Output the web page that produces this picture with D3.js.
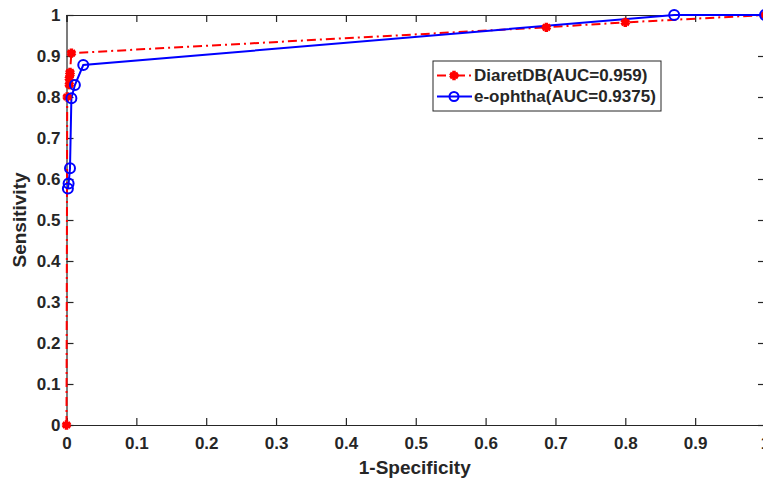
<!DOCTYPE html>
<html>
<head>
<meta charset="utf-8">
<script src="https://cdn.jsdelivr.net/npm/d3@7"></script>
<style>
  body { margin: 0; background: #fff; }
  svg { display: block; font-family: "Liberation Sans", Arial, sans-serif; }
</style>
</head>
<body>
<svg id="roc" width="763" height="485"></svg>
<script>
// ROC points
var diaretFpr  = [0, 0.001, 0.004, 0.004, 0.005, 0.005, 0.007, 0.687, 0.8, 1];
var diaretTpr  = [0, 0.8, 0.83, 0.845, 0.855, 0.86, 0.907, 0.97, 0.982, 1];
var ophthaFpr  = [0.002, 0.003, 0.005, 0.007, 0.012, 0.024, 0.87, 1];
var ophthaTpr  = [0.577, 0.589, 0.626, 0.797, 0.829, 0.878, 1, 1];
var seriesNames = ["DiaretDB(AUC=0.959)", "e-ophtha(AUC=0.9375)"];
var tickVals = [0, 0.1, 0.2, 0.3, 0.4, 0.5, 0.6, 0.7, 0.8, 0.9, 1];

var svg = d3.select("#roc");
var margin = {top: 15, left: 66.5, right: 765, bottom: 425};

var xScale = d3.scaleLinear().domain([0, 1]).range([margin.left, margin.right]);
var yScale = d3.scaleLinear().domain([0, 1]).range([margin.bottom, margin.top]);

function zip(xs, ys) {
  var out = [];
  for (var i = 0; i < xs.length; i++) out.push({x: xs[i], y: ys[i]});
  return out;
}
var diaret = zip(diaretFpr, diaretTpr);
var ophtha = zip(ophthaFpr, ophthaTpr);

var fmt = function(d) { return d3.format("")(d); };

// bottom + left axes with labels, top + right just ticks (box on)
var xAxisCall = d3.axisBottom(xScale).tickValues(tickVals).tickSize(-7).tickPadding(12).tickFormat(fmt);
var yAxisCall = d3.axisLeft(yScale).tickValues(tickVals).tickSize(-7).tickPadding(6).tickFormat(fmt);
var xTopCall = d3.axisTop(xScale).tickValues(tickVals).tickSize(-7).tickFormat("");
var yRightCall = d3.axisRight(yScale).tickValues(tickVals).tickSize(-7).tickFormat("");

svg.append("g").attr("class", "x axis")
  .attr("transform", "translate(0," + margin.bottom + ")")
  .call(xAxisCall);
svg.append("g").attr("class", "y axis")
  .attr("transform", "translate(" + margin.left + ",0)")
  .call(yAxisCall);
svg.append("g").attr("class", "axis")
  .attr("transform", "translate(0," + margin.top + ")")
  .call(xTopCall);
svg.append("g").attr("class", "axis")
  .attr("transform", "translate(" + margin.right + ",0)")
  .call(yRightCall);

svg.selectAll(".axis path").attr("stroke", "#262626").attr("stroke-width", 1.2);
svg.selectAll(".axis line").attr("stroke", "#262626").attr("stroke-width", 1.2);
svg.selectAll(".axis text")
  .attr("fill", "#262626")
  .style("font-size", "17px")
  .style("font-weight", "bold");

svg.append("text")
  .attr("x", (margin.left + margin.right) / 2 - 1)
  .attr("y", 474)
  .attr("text-anchor", "middle")
  .attr("fill", "#262626")
  .style("font-size", "19px")
  .style("font-weight", "bold")
  .text("1-Specificity");
svg.append("text")
  .attr("transform", "translate(26," + yScale(0.5) + ")rotate(-90)")
  .attr("text-anchor", "middle")
  .attr("fill", "#262626")
  .style("font-size", "19px")
  .style("font-weight", "bold")
  .text("Sensitivity");

var line = d3.line()
  .x(function(d) { return xScale(d.x); })
  .y(function(d) { return yScale(d.y); });

var plot = svg.append("g");

// red dash-dot
plot.append("path")
  .datum(diaret)
  .attr("fill", "none")
  .attr("stroke", "#ff0000")
  .attr("stroke-width", 2)
  .attr("stroke-dasharray", "9,4,2,4")
  .attr("d", line);

// blue solid
plot.append("path")
  .datum(ophtha)
  .attr("fill", "none")
  .attr("stroke", "#0000ff")
  .attr("stroke-width", 2)
  .attr("d", line);

var star = d3.symbol().type(d3.symbolAsterisk).size(60);

plot.selectAll(".redpt")
  .data(diaret)
  .enter().append("path")
  .attr("class", "redpt")
  .attr("transform", function(d) { return "translate(" + xScale(d.x) + "," + yScale(d.y) + ")"; })
  .attr("d", star)
  .attr("fill", "none")
  .attr("stroke", "#ff0000")
  .attr("stroke-width", 3.5);

plot.selectAll(".bluept")
  .data(ophtha)
  .enter().append("circle")
  .attr("class", "bluept")
  .attr("cx", function(d) { return xScale(d.x); })
  .attr("cy", function(d) { return yScale(d.y); })
  .attr("r", 5)
  .attr("fill", "none")
  .attr("stroke", "#0000ff")
  .attr("stroke-width", 2);

// legend
var legend = svg.append("g").attr("transform", "translate(433,61)");
legend.append("rect")
  .attr("width", 228).attr("height", 50)
  .attr("fill", "#fff")
  .attr("stroke", "#262626")
  .attr("stroke-width", 1);

var rows = [
  {name: seriesNames[0], color: "#ff0000", dash: "9,4,2,4", mark: "star", y: 14.5},
  {name: seriesNames[1], color: "#0000ff", dash: null, mark: "circle", y: 35.5}
];
rows.forEach(function(r) {
  legend.append("line")
    .attr("x1", 4).attr("x2", 39)
    .attr("y1", r.y).attr("y2", r.y)
    .attr("stroke", r.color)
    .attr("stroke-width", 2)
    .attr("stroke-dasharray", r.dash);
  if (r.mark == "star") {
    legend.append("path")
      .attr("transform", "translate(21," + r.y + ")")
      .attr("d", star)
      .attr("fill", "none")
      .attr("stroke", r.color)
      .attr("stroke-width", 3.5);
  } else {
    legend.append("circle")
      .attr("cx", 21).attr("cy", r.y).attr("r", 4.5)
      .attr("fill", "none")
      .attr("stroke", r.color)
      .attr("stroke-width", 2);
  }
  legend.append("text")
    .attr("x", 41).attr("y", r.y)
    .attr("dy", "0.35em")
    .attr("fill", "#262626")
    .style("font-size", "17px")
    .style("font-weight", "bold")
    .text(r.name);
});
</script>
</body>
</html>
